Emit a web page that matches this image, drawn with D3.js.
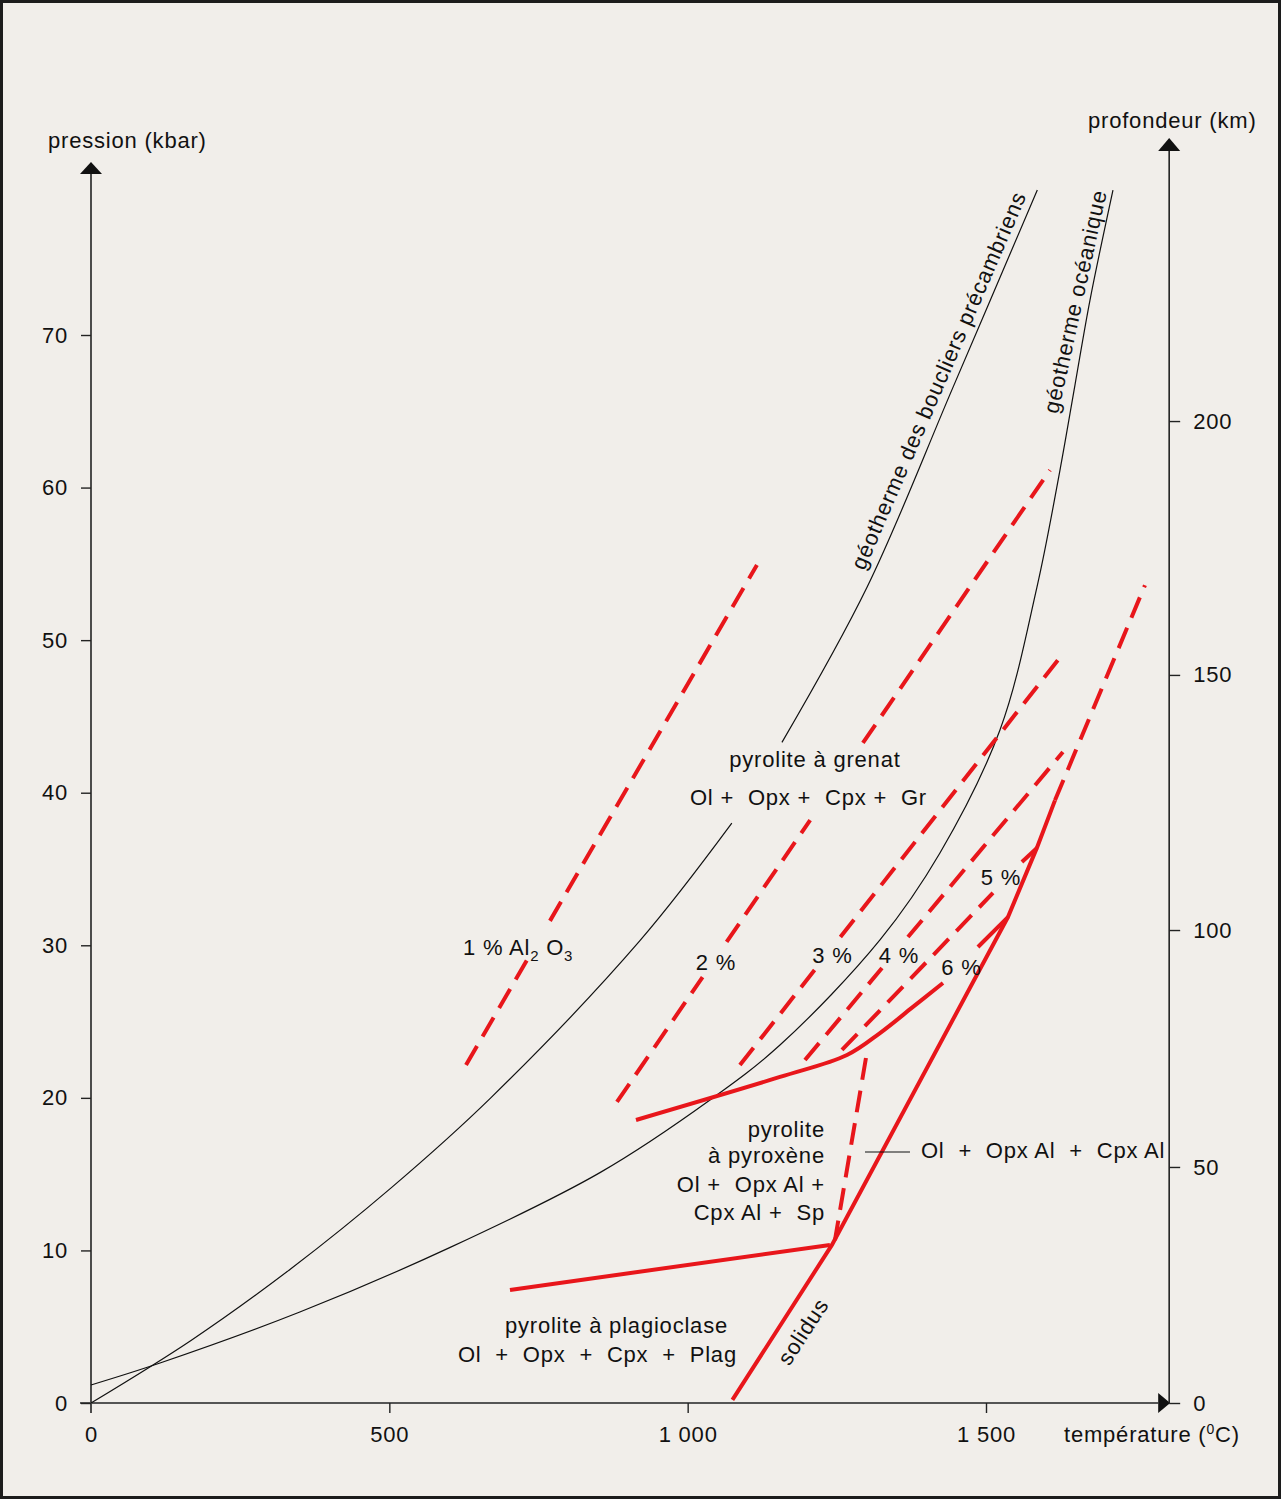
<!DOCTYPE html>
<html><head><meta charset="utf-8">
<script src="https://cdn.jsdelivr.net/npm/d3@7"></script>
<style>
html,body{margin:0;padding:0;background:#fff;}
text{font-family:"Liberation Sans",Arial,sans-serif;font-size:22px;fill:#111;letter-spacing:0.8px;}
</style></head><body>
<svg id="c" width="1284" height="1500"></svg>
<script>
// ---------- data (temperature °C, pressure kbar) ----------
const tempTicks = [0, 500, 1000, 1500];
const tempTickLabels = ["0", "500", "1 000", "1 500"];
const pressTicks = [0, 10, 20, 30, 40, 50, 60, 70];
const depthTickLabels = [0, 50, 100, 150, 200];
const depthTickPressure = [0, 15.47, 31.0, 47.72, 64.36];
const rightAxisT = 1807;

const shieldLower = [[0,0],[167.6,4.1],[335,8.8],[503,14.1],[670,20.0],[920,30.3],[1074,38.0]];
const shieldUpper = [[1158,43.3],[1301,53.5],[1445,66.6],[1586,79.5]];
const oceanic = [[0,1.18],[115.7,2.62],[350,5.96],[602,10.2],[853,15.1],[1037.4,19.86],[1154.7,23.46],
  [1322.3,30.35],[1422.8,36.05],[1523.4,44.11],[1585.4,53.48],[1624,61.15],
  [1649.1,66.72],[1674.3,72.29],[1712.8,79.5]];

const iso1 = [[[628.5,22.15],[730.7,29.04]], [[769.2,31.6],[1116.1,54.93]]];
const iso2 = [[[881.5,19.73],[1025,27.92]], [[1065.3,30.22],[1205.3,38.21]], [[1293.7,43.26],[1607.2,61.15]]];
const iso3 = [[[1087.6,22.15],[1212.7,28.38]], [[1256,30.54],[1620.6,48.7]]];
const iso4 = [[[1196.6,22.48],[1325.7,28.51]], [[1369.2,30.54],[1628.9,42.67]]];
const iso5 = [[[1258.6,23.14],[1511.7,33.43]]];
const iso5Join = [[1560.2,35.46],[1585.4,36.38]];
const solidus = [[1075,0.2],[1241.8,10.36],[1536.8,31.85],[1585.4,36.4],[1615.6,39.5]];
const solidusDashed = [[1615.6,39.5],[1766.4,53.6]];
const plagBoundary = [[702.2,7.41],[1238.5,10.36]];
const garnetBoundary = [[913.4,18.55],[1154.7,21.37],[1267.0,22.81],[1322.3,24.25],[1377.6,25.96],[1427.9,27.53]];
const garnetJoin = [[1486.5,29.89],[1536.8,31.85]];
const spinelDashed = [[1298.8,22.61],[1246.9,10.68]];
const pointerLine = [[1297.2,16.45],[1372.6,16.45]];

const labels = [
  {text:"2 %", t:1047.4, p:28.38, a:"middle"},
  {text:"3 %", t:1242.7, p:28.84, a:"middle"},
  {text:"4 %", t:1354.1, p:28.84, a:"middle"},
  {text:"5 %", t:1525, p:33.95, a:"middle"},
  {text:"6 %", t:1458.9, p:28.05, a:"middle"},
  {text:"pyrolite à grenat", t:1213.3, p:41.69, a:"middle"},
  {text:"Ol +  Opx +  Cpx +  Gr", t:1202.4, p:39.2, a:"middle"},
  {text:"pyrolite", t:1230.1, p:17.43, a:"end"},
  {text:"à pyroxène", t:1230.1, p:15.72, a:"end"},
  {text:"Ol +  Opx Al +", t:1230.1, p:13.83, a:"end"},
  {text:"Cpx Al +  Sp", t:1230.1, p:11.99, a:"end"},
  {text:"Ol  +  Opx Al  +  Cpx Al", t:1391, p:16.06, a:"start"},
  {text:"pyrolite à plagioclase", t:880.7, p:4.59, a:"middle"},
  {text:"Ol  +  Opx  +  Cpx  +  Plag", t:848.8, p:2.69, a:"middle"}
];
const rotLabels = [
  {text:"géotherme des boucliers précambriens", t:1420.3, p:67.02, angle:-66.6},
  {text:"géotherme océanique", t:1649.1, p:72.2, angle:-77.6},
  {text:"solidus", t:1193.2, p:4.69, angle:-57}
];

// ---------- drawing ----------
const svg = d3.select("#c");
const RED = "#e8161b";
svg.append("rect").attr("x",1.5).attr("y",1.5).attr("width",1278).attr("height",1496)
  .attr("fill","#f1eeea").attr("stroke","#1c1c1c").attr("stroke-width",3);

const x = d3.scaleLinear().domain([0,1500]).range([91,986]);
const y = d3.scaleLinear().domain([0,70]).range([1403,335]);
const line = d3.line().x(d=>x(d[0])).y(d=>y(d[1]));
const smooth = d3.line().x(d=>x(d[0])).y(d=>y(d[1])).curve(d3.curveCatmullRom.alpha(0.5));

const xR = x(rightAxisT), yTop = y(0);

// axes lines
svg.append("line").attr("x1",x(0)).attr("x2",x(0)).attr("y1",yTop+10).attr("y2",174)
  .attr("stroke","#222").attr("stroke-width",1.6);
svg.append("path").attr("d",`M${x(0)},162L${x(0)-11},174L${x(0)+11},174Z`).attr("fill","#111");
svg.append("line").attr("x1",x(0)-11).attr("x2",xR-11).attr("y1",yTop).attr("y2",yTop)
  .attr("stroke","#555").attr("stroke-width",2);
svg.append("path").attr("d",`M${xR+1},${yTop}L${xR-11},${yTop-10}L${xR-11},${yTop+10}Z`).attr("fill","#111");
svg.append("line").attr("x1",xR).attr("x2",xR).attr("y1",yTop).attr("y2",151)
  .attr("stroke","#222").attr("stroke-width",1.6);
svg.append("path").attr("d",`M${xR},138L${xR-11},151L${xR+11},151Z`).attr("fill","#111");

const axL = svg.append("g").attr("transform",`translate(${x(0)},0)`)
  .call(d3.axisLeft(y).tickValues(pressTicks).tickSize(10).tickPadding(13).tickSizeOuter(0));
const axB = svg.append("g").attr("transform",`translate(0,${yTop})`)
  .call(d3.axisBottom(x).tickValues(tempTicks).tickSize(10).tickPadding(13).tickSizeOuter(0)
    .tickFormat((d,i)=>tempTickLabels[i]));
const yDepth = d3.scaleOrdinal().domain(depthTickLabels).range(depthTickPressure.map(p=>y(p)));
const axR = svg.append("g").attr("transform",`translate(${xR},0)`)
  .call(d3.axisRight(yDepth).tickSize(11).tickPadding(13).tickSizeOuter(0));
[axL,axB,axR].forEach(g=>{
  g.select(".domain").remove();
  g.selectAll("line").attr("stroke","#222").attr("stroke-width",1.4);
  g.selectAll("text").style("font-family",null).style("font-size",null).attr("font-family",null).attr("font-size",null).attr("fill","#111");
});
axB.selectAll(".tick").filter(d=>d===0).select("line").remove();

// axis titles
svg.append("text").attr("x",48).attr("y",148).text("pression (kbar)");
svg.append("text").attr("x",1088).attr("y",128).text("profondeur (km)");
const tt = svg.append("text").attr("x",1064).attr("y",1442);
tt.append("tspan").text("température (");
tt.append("tspan").attr("dy",-8).style("font-size","14px").text("0");
tt.append("tspan").attr("dy",8).text("C)");

// geotherms
[shieldLower, shieldUpper, oceanic].forEach(d=>{
  svg.append("path").attr("d",smooth(d)).attr("fill","none").attr("stroke","#111").attr("stroke-width",1.2);
});

// red lines
const dash = "22,11";
[iso1, iso2, iso3, iso4, iso5].forEach(segs=>segs.forEach(s=>{
  svg.append("path").attr("d",line(s)).attr("fill","none").attr("stroke",RED)
    .attr("stroke-width",4).attr("stroke-dasharray",dash);
}));
[solidusDashed, spinelDashed].forEach(s=>{
  svg.append("path").attr("d",line(s)).attr("fill","none").attr("stroke",RED)
    .attr("stroke-width",4).attr("stroke-dasharray",dash);
});
[iso5Join, solidus, plagBoundary, garnetJoin].forEach(s=>{
  svg.append("path").attr("d",line(s)).attr("fill","none").attr("stroke",RED).attr("stroke-width",4);
});
svg.append("path").attr("d",smooth(garnetBoundary))
  .attr("fill","none").attr("stroke",RED).attr("stroke-width",4);
svg.append("path").attr("d",line(pointerLine)).attr("stroke","#111").attr("stroke-width",1.2);

// labels
labels.forEach(l=>{
  svg.append("text").attr("x",x(l.t)).attr("y",y(l.p)).attr("text-anchor",l.a)
    .style("white-space","pre").attr("xml:space","preserve").text(l.text);
});
// 1 % Al2O3
const al = svg.append("text").attr("x",x(623.4)).attr("y",y(29.36)).style("white-space","pre");
al.append("tspan").text("1 % Al");
al.append("tspan").attr("dy",6).style("font-size","15px").text("2");
al.append("tspan").attr("dy",-6).text(" O");
al.append("tspan").attr("dy",6).style("font-size","15px").text("3");

rotLabels.forEach(l=>{
  svg.append("text").attr("transform",`translate(${x(l.t)},${y(l.p)}) rotate(${l.angle})`)
    .attr("text-anchor","middle").attr("dy","0.35em").text(l.text);
});
</script>
</body></html>
